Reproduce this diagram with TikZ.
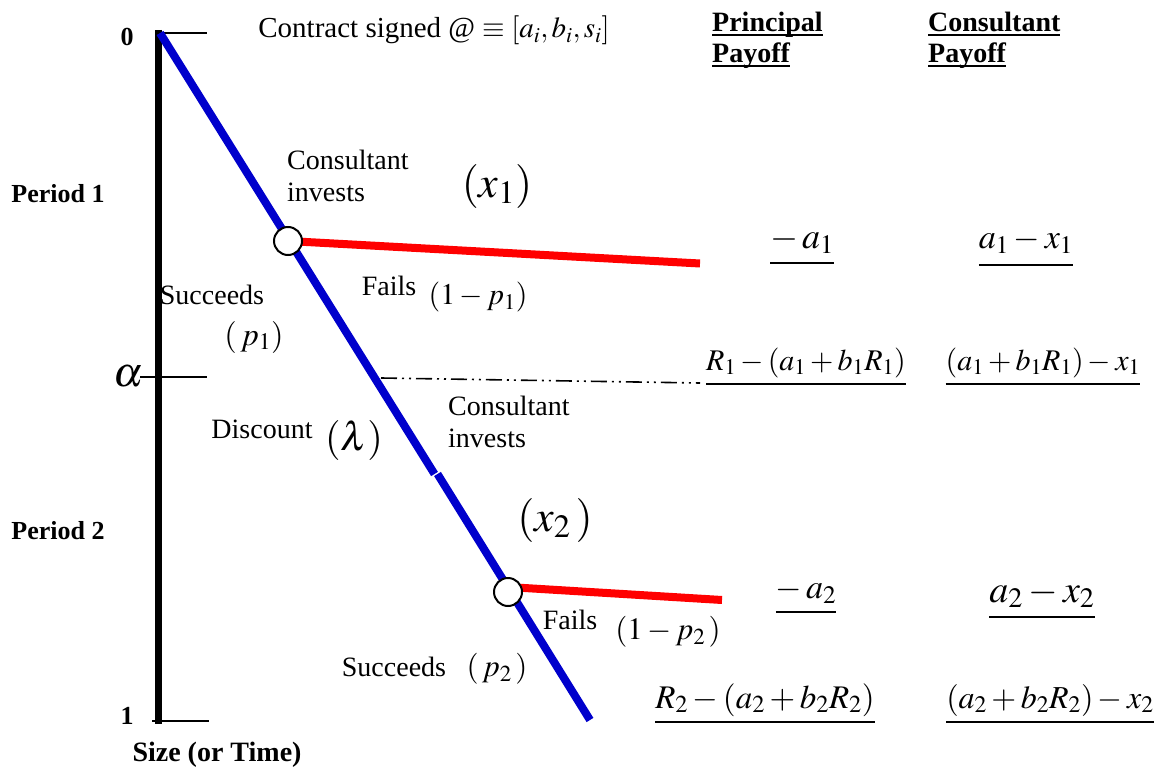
\documentclass[tikz,border=0pt]{standalone}
\usepackage{mathptmx}
\usepackage{fontspec}
\setmainfont{Liberation Serif}
\definecolor{bl}{RGB}{0,0,204}
\definecolor{rd}{RGB}{255,0,0}
\newcommand{\fsz}[2]{\fontsize{#1}{#2}\selectfont}
\newcommand{\payul}[2][6pt]{\setbox0\hbox{#2}\rlap{\rule[-#1]{\wd0}{1.8pt}}\box0}
\tikzset{
  lbl/.style={inner sep=0pt, font=\fsz{28}{32}, align=left},
  bld/.style={inner sep=0pt, font=\bfseries\fsz{26}{30}},
  hdr/.style={inner sep=0pt, font=\bfseries\fsz{28}{31}, align=left, anchor=north west},
  mth/.style={inner sep=0pt},
  blueln/.style={draw=bl, line width=8pt},
  redln/.style={draw=rd, line width=8pt},
  tickln/.style={draw=black, line width=1.6pt},
  axisln/.style={draw=black, line width=6.5pt},
  joint/.style={circle, draw=black, fill=white, line width=2pt, minimum size=28pt, inner sep=0pt},
  dashdd/.style={draw=black, line width=1.6pt, dash pattern=on 16pt off 5pt on 2pt off 5pt on 2pt off 5pt},
}
\begin{document}
\begin{tikzpicture}[x=1pt,y=-1pt]
\useasboundingbox (0,0) rectangle (1159,773);
% axis
\coordinate (axT) at (158.5,30);
\coordinate (axB) at (158.5,724);
\draw[axisln] (axT) -- (axB);
\coordinate (t0a) at (158,33);   \coordinate (t0b) at (207,33);
\coordinate (taa) at (140,377);  \coordinate (tab) at (207,377);
\coordinate (t1a) at (152,721);  \coordinate (t1b) at (209,721);
\draw[tickln] (t0a) -- (t0b);
\draw[tickln] (taa) -- (tab);
\draw[tickln, line width=2.4pt] (t1a) -- (t1b);
% blue path
\coordinate (bO) at (160,33);
\coordinate (bJa) at (434.5,474);
\coordinate (bJb) at (437.5,474);
\coordinate (bE) at (590,720);
\draw[blueln] (bO) -- (bJa);
\draw[blueln] (bJb) -- (bE);
% red branches
\coordinate (c1p) at (288,241);
\coordinate (r1e) at (700,263.5);
\coordinate (c2p) at (508,592);
\coordinate (r2s) at (508,587);
\coordinate (r2e) at (722,600);
\draw[redln] (c1p) -- (r1e);
\draw[redln] (r2s) -- (r2e);
% dash-dot-dot
\coordinate (dS) at (381,378);
\coordinate (dE) at (700,383);
\draw[dashdd] (dS) -- (dE);
% joints
\node[joint] (c1) at (c1p) {};
\node[joint] (c2) at (c2p) {};
% axis labels
\node[bld] (zero) at (127,37) {0};
\node[bld] (one) at (127,716) {1};
\node[bld, font=\bfseries\fsz{28}{32}] (size) at (217,755) {Size (or Time)};
\node[bld] (per1) at (58,194) {Period 1};
\node[bld] (per2) at (58,531) {Period 2};
\node[mth, font=\fsz{42}{46}] (alpha) at (128,376) {$\alpha$};
% top text
\node[lbl, anchor=base, font=\fsz{29}{33}] (contract) at (434,38) {Contract signed @ $\equiv[a_i,b_i,s_i]$};
\node[hdr] (ppay) at (712,12) {\payul[4pt]{Principal}\\\payul[4pt]{Payoff}};
\node[hdr] (cpay) at (928,12) {\payul[4pt]{Consultant}\\\payul[4pt]{Payoff}};
% period 1 labels
\node[lbl, anchor=north west] (ci1) at (287,150) {Consultant\\invests};
\node[mth, font=\fsz{44}{48}] (x1) at (497,186) {$(x_1)$};
\node[lbl] (succ1) at (212,295) {Succeeds};
\node[mth, font=\fsz{32}{36}] (p1) at (254,337) {$(\,p_1)$};
\node[lbl] (fails1) at (389,286) {Fails};
\node[mth, font=\fsz{30}{34}] (q1) at (478,297) {$(1-p_1)$};
% payoffs 1
\node[mth, anchor=base, font=\fsz{36}{40}] (pa1) at (802,248) {\payul[16pt]{$-\,a_1$}};
\node[mth, anchor=base, font=\fsz{34}{38}] (ca1) at (1026,248) {\payul[18pt]{$a_1-x_1$}};
\node[mth, anchor=base, font=\fsz{30}{34}] (pr1) at (806,370) {\payul[15pt]{$R_1-(a_1+b_1R_1)$}};
\node[mth, anchor=base, font=\fsz{30}{34}] (cr1) at (1043,370) {\payul[15pt]{$(a_1+b_1R_1)-x_1$}};
% middle
\node[lbl] (disc) at (262,429) {Discount};
\node[mth, font=\fsz{40}{44}] (lam) at (354,440) {$(\lambda)$};
\node[lbl, anchor=north west] (ci2) at (448,396) {Consultant\\invests};
\node[mth, font=\fsz{44}{48}] (x2) at (555,520) {$(x_2\,)$};
% period 2 labels
\node[lbl] (fails2) at (570,620) {Fails};
\node[mth, font=\fsz{31}{35}] (q2) at (668,632) {$(1-p_2\,)$};
\node[lbl] (succ2) at (394,667) {Succeeds};
\node[mth, font=\fsz{31}{35}] (p2) at (497,669) {$(\,p_2\,)$};
% payoffs 2
\node[mth, anchor=base, font=\fsz{34}{38}] (pa2) at (806,598) {\payul[15pt]{$-\,a_2$}};
\node[mth, anchor=base, font=\fsz{38}{42}] (ca2) at (1042,602) {\payul[16pt]{$a_2-x_2$}};
\node[mth, anchor=base, font=\fsz{33}{37}] (pr2) at (765,708) {\payul[15pt]{$R_2-(a_2+b_2R_2)$}};
\node[mth, anchor=base, font=\fsz{32}{36}] (cr2) at (1050,708) {\payul[15pt]{$(a_2+b_2R_2)-x_2$}};
\end{tikzpicture}
\end{document}
